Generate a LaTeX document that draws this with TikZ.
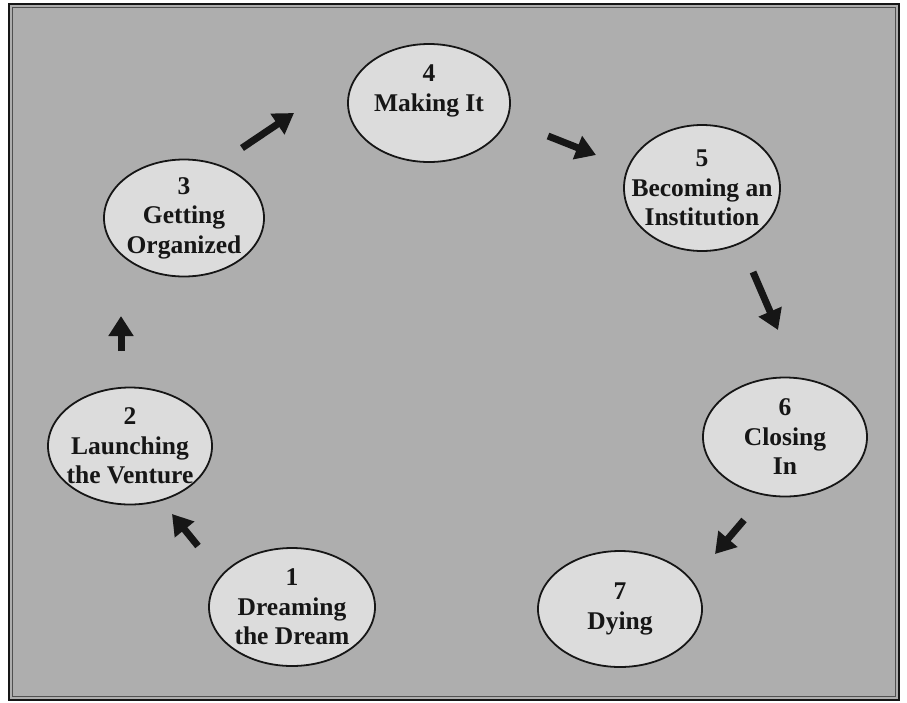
\documentclass[tikz,border=0pt]{standalone}
\usepackage{fontspec}
\setmainfont{Liberation Serif}
\usetikzlibrary{arrows.meta,shapes.geometric}
\definecolor{bggray}{RGB}{174,174,174}
\definecolor{ellfill}{RGB}{220,220,220}
\definecolor{ink}{RGB}{22,22,22}
\tikzset{
  stage/.style={ellipse, draw=ink, line width=1.8pt, fill=ellfill, minimum width=#1, align=center,
    font=\fontsize{25.5}{29.5}\selectfont\bfseries, text=ink, inner xsep=-30pt, inner ysep=-15pt},
  stage/.default=160pt,
  flow/.style={draw=ink, line width=7pt, -{Triangle[width=24pt,length=20pt]}, fill=ink},
}
\begin{document}
\begin{tikzpicture}[x=1pt,y=-1pt]
\useasboundingbox (0,0) rectangle (907,702);
\fill[white] (0,0) rectangle (907,702);
\fill[bggray] (9,4) rectangle (899,700);
\draw[ink, line width=2.5pt] (9,4) rectangle (899,700);
\draw[ink!75, line width=1pt] (12.5,7.5) rectangle (895.5,696.5);
% stages
\node[stage=166pt, minimum height=118pt] (s1) at (292,607) {1\\Dreaming\\the Dream};
\node[stage=164pt, minimum height=117pt] (s2) at (130,446) {2\\Launching\\the Venture};
\node[stage=160pt, minimum height=117pt] (s3) at (184,218) {3\\Getting\\Organized};
\node[stage=162pt, minimum height=118pt] (s4) at (429,103) {4\\Making It\\\phantom{x}};
\node[stage=156pt, minimum height=126pt] (s5) at (702,188) {5\\Becoming an\\Institution};
\node[stage=164pt, minimum height=119pt] (s6) at (785,437) {6\\Closing\\In};
\node[stage=164pt, minimum height=116pt] (s7) at (620,609) {7\\Dying};
% arrow ends
\coordinate (a1s) at (198,546); \coordinate (a1e) at (172,514);
\coordinate (a2s) at (121,351); \coordinate (a2e) at (121,316);
\coordinate (a3s) at (242,148); \coordinate (a3e) at (294,113);
\coordinate (a4s) at (548,136); \coordinate (a4e) at (596,155);
\coordinate (a5s) at (753,272); \coordinate (a5e) at (778,330);
\coordinate (a6s) at (744,520); \coordinate (a6e) at (715,554);
\draw[flow] (a1s) -- (a1e);
\draw[flow] (a2s) -- (a2e);
\draw[flow] (a3s) -- (a3e);
\draw[flow] (a4s) -- (a4e);
\draw[flow] (a5s) -- (a5e);
\draw[flow] (a6s) -- (a6e);
\end{tikzpicture}
\end{document}
